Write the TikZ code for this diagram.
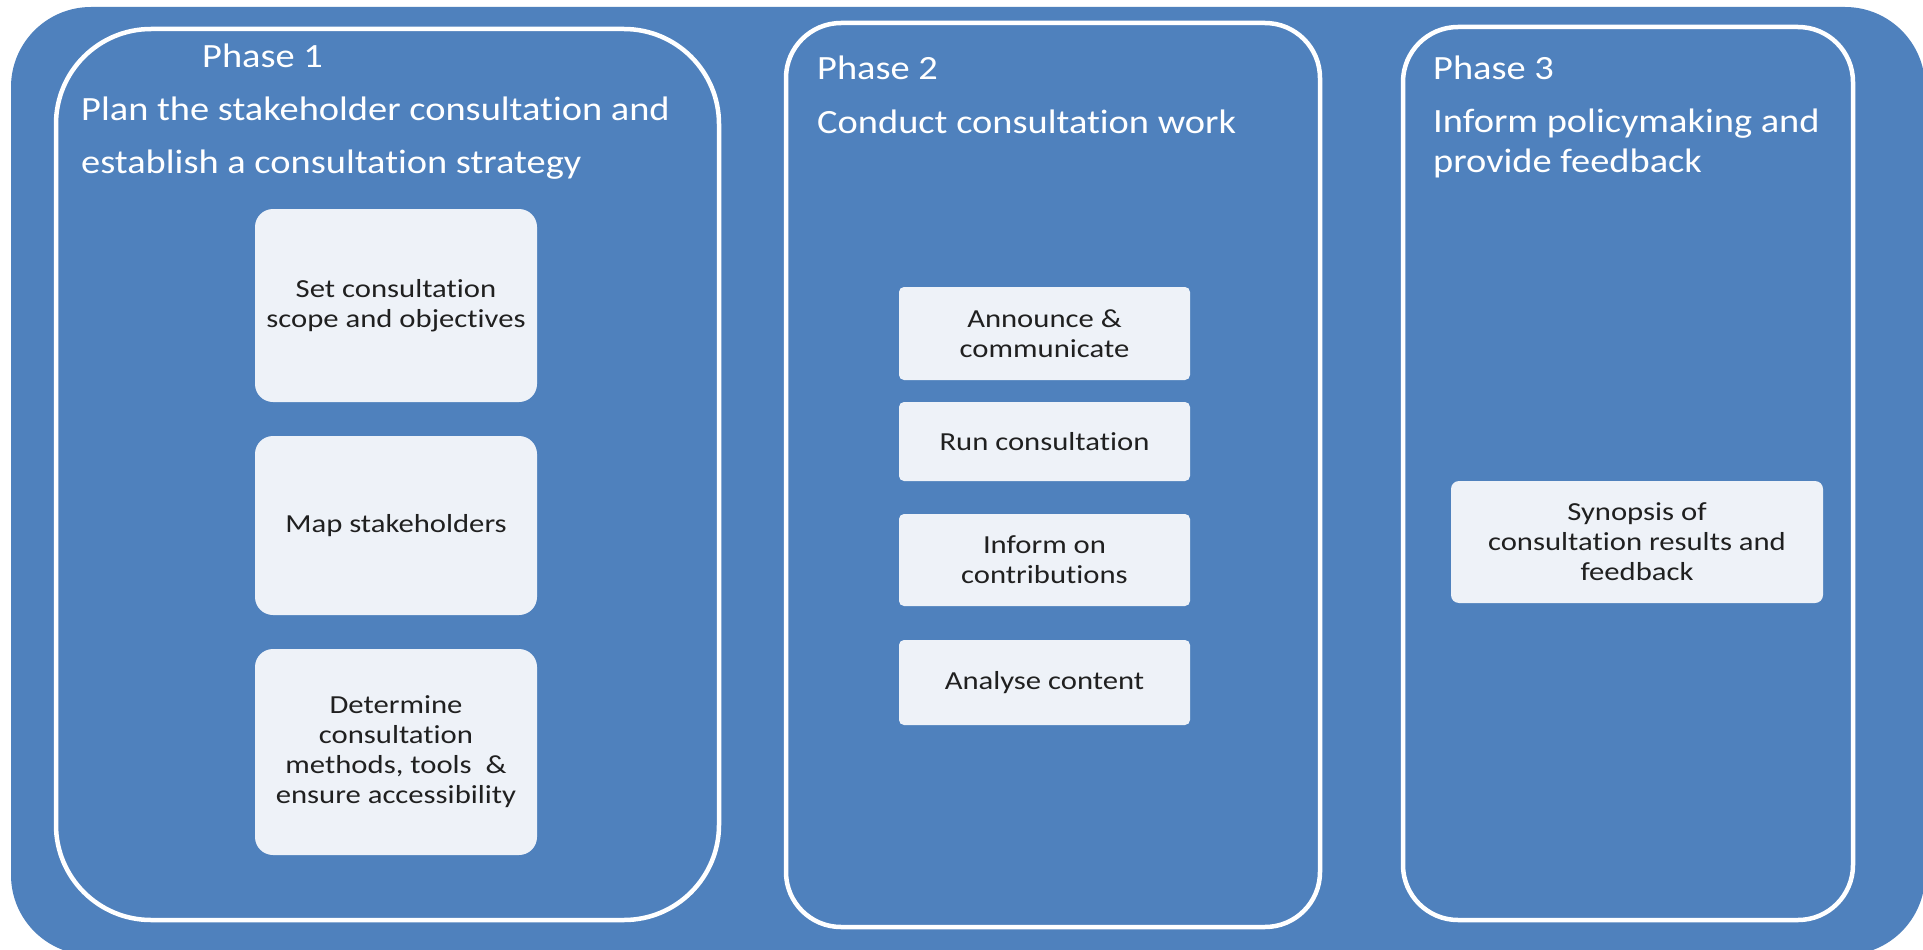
\documentclass[tikz,border=0pt]{standalone}
\usepackage{fontspec}
\setmainfont{Carlito}
\newfontfamily\hdrfont[FakeStretch=1.13,Ligatures=NoCommon]{Carlito}
\newfontfamily\boxfont[FakeStretch=1.18,Ligatures=NoCommon]{Carlito}
\definecolor{outerblue}{HTML}{4F81BD}
\definecolor{boxfill}{HTML}{EEF2F8}
\definecolor{boxtext}{HTML}{202020}
\begin{document}
\begin{tikzpicture}[x=1pt,y=-1pt,
  phase/.style={draw=white, line width=4.5pt, inner sep=0pt},
  stepbox/.style={fill=boxfill, draw=none, text=boxtext, inner sep=0pt,
    font=\boxfont\fontsize{26}{30}\selectfont, align=center},
  hdr/.style={text=white, anchor=base west, inner sep=0pt,
    font=\hdrfont\fontsize{34}{40}\selectfont}]
\fill[white] (0,0) rectangle (1923,950);
\useasboundingbox (0,0) rectangle (1923,950);
% outer panel
\fill[outerblue, rounded corners=80pt] (11,7) rectangle (1925,955);
% phase containers
\node[phase, rounded corners=95pt, minimum width=663pt, minimum height=891pt] (p1) at (387.5,474.5) {};
\node[phase, rounded corners=55pt, minimum width=534pt, minimum height=904pt] (p2) at (1053,475) {};
\node[phase, rounded corners=55pt, minimum width=450pt, minimum height=893pt] (p3) at (1628,473.5) {};
% headers
\node[hdr] (t1) at (202,67) {Phase 1};
\node[hdr] (t1a) at (81,120) {Plan the stakeholder consultation and};
\node[hdr] (t1b) at (81,173) {establish a consultation strategy};
\node[hdr] (t2) at (817,80) {Phase 2};
\node[hdr] (t2a) at (817,133) {Conduct consultation work};
\node[hdr] (t3) at (1433,80) {Phase 3};
\node[hdr] (t3a) at (1433,132) {Inform policymaking and};
\node[hdr] (t3b) at (1433,172) {provide feedback};
% phase 1 steps
\node[stepbox, rounded corners=18pt, minimum width=282pt, minimum height=193pt] (a) at (396,305.5) {Set consultation\\scope and objectives};
\node[stepbox, rounded corners=18pt, minimum width=282pt, minimum height=179pt] (b) at (396,525.5) {Map stakeholders};
\node[stepbox, rounded corners=18pt, minimum width=282pt, minimum height=206pt] (c) at (396,752) {Determine\\consultation\\methods, tools~~\&\\ensure accessibility};
% phase 2 steps
\node[stepbox, rounded corners=5pt, minimum width=291pt, minimum height=93pt] (d) at (1044.5,333.5) {Announce \&\\communicate};
\node[stepbox, rounded corners=5pt, minimum width=291pt, minimum height=79pt] (e) at (1044.5,441.5) {Run consultation};
\node[stepbox, rounded corners=5pt, minimum width=291pt, minimum height=92pt] (f) at (1044.5,560) {Inform on\\contributions};
\node[stepbox, rounded corners=5pt, minimum width=291pt, minimum height=85pt] (g) at (1044.5,682.5) {Analyse content};
% phase 3 step
\node[stepbox, rounded corners=8pt, minimum width=372pt, minimum height=122pt] (h) at (1637,542) {Synopsis of\\consultation results and\\feedback};
\end{tikzpicture}
\end{document}
